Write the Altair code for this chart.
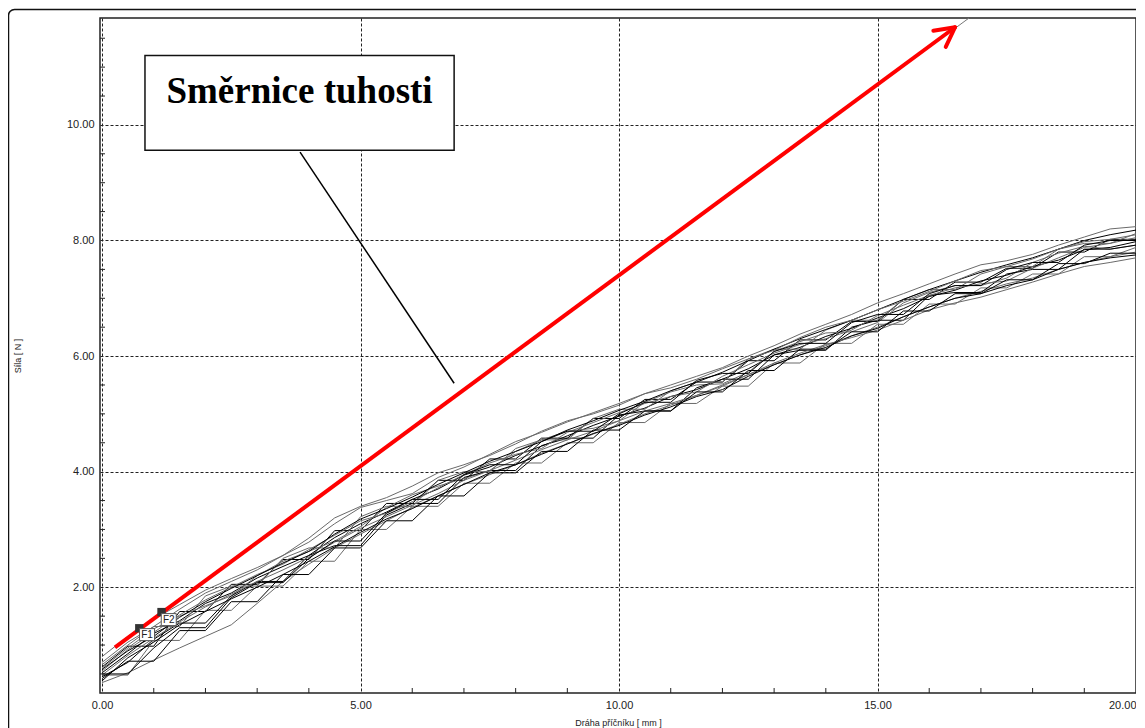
import altair as alt
import pandas as pd

# ---------------- data ----------------
x_mm = [0.0, 0.5, 1.0, 1.5, 2.0, 2.5, 3.0, 3.5, 4.0, 4.5, 5.0, 5.5, 6.0, 6.5, 7.0,
        7.5, 8.0, 8.5, 9.0, 9.5, 10.0, 10.5, 11.0, 11.5, 12.0, 12.5, 13.0, 13.5,
        14.0, 14.5, 15.0, 15.5, 16.0, 16.5, 17.0, 17.5, 18.0, 18.5, 19.0, 19.5, 20.0]

curve_01 = [0.62,0.98,0.98,1.58,1.58,2.05,2.05,2.48,2.48,2.98,2.98,3.45,3.45,3.85,3.85,4.22,4.22,4.58,4.58,4.92,4.92,5.25,5.25,5.55,5.55,5.92,5.92,6.28,6.28,6.60,6.60,6.98,6.98,7.28,7.28,7.52,7.52,7.80,7.80,8.02,8.02]
curve_02 = [0.48,0.48,1.08,1.08,1.60,1.60,2.02,2.02,2.45,2.45,3.00,3.00,3.40,3.40,3.80,3.80,4.15,4.15,4.50,4.50,4.85,4.85,5.18,5.18,5.48,5.48,5.88,5.88,6.22,6.22,6.55,6.55,6.90,6.90,7.18,7.18,7.42,7.42,7.72,7.72,7.88]
curve_03 = [0.80,1.15,1.45,1.70,1.95,2.15,2.34,2.55,2.78,3.10,3.38,3.50,3.62,3.90,4.08,4.30,4.52,4.68,4.86,5.02,5.18,5.35,5.50,5.65,5.80,6.00,6.18,6.38,6.55,6.72,6.92,7.08,7.25,7.42,7.58,7.65,7.76,7.92,8.06,8.20,8.24]
curve_04 = [0.35,0.52,0.74,0.95,1.15,1.35,1.72,2.10,2.40,2.68,2.92,3.15,3.38,3.58,3.78,3.95,4.12,4.32,4.48,4.65,4.82,5.00,5.15,5.32,5.50,5.68,5.85,6.02,6.18,6.35,6.50,6.68,6.85,7.00,7.12,7.25,7.35,7.50,7.62,7.72,7.80]
curve_05 = [0.52,0.85,1.20,1.42,1.72,1.90,2.16,2.36,2.55,2.86,3.10,3.30,3.52,3.70,3.94,4.08,4.28,4.44,4.62,4.80,4.96,5.10,5.30,5.42,5.60,5.78,6.02,6.15,6.34,6.48,6.66,6.82,7.03,7.14,7.30,7.40,7.55,7.66,7.84,7.88,7.98]
curve_06 = [0.60,0.95,1.28,1.50,1.68,1.85,2.20,2.45,2.62,2.80,3.05,3.38,3.60,3.75,3.88,4.02,4.35,4.55,4.70,4.75,4.88,5.20,5.38,5.50,5.52,5.72,6.08,6.25,6.40,6.42,6.58,6.92,7.10,7.22,7.22,7.35,7.62,7.78,7.90,7.85,7.92]
curve_07 = [0.45,0.70,1.10,1.38,1.38,1.85,2.10,2.10,2.55,2.72,2.72,3.25,3.45,3.45,3.90,4.02,4.02,4.45,4.58,4.58,4.98,5.05,5.05,5.45,5.60,5.60,6.02,6.10,6.10,6.50,6.62,6.62,7.05,7.10,7.10,7.42,7.50,7.50,7.85,7.85,7.92]
curve_08 = [0.70,1.05,1.32,1.32,1.85,2.02,2.02,2.50,2.68,2.68,3.22,3.40,3.40,3.85,4.00,4.00,4.40,4.55,4.55,4.92,5.08,5.08,5.40,5.55,5.55,5.95,6.12,6.12,6.45,6.62,6.62,6.98,7.15,7.15,7.42,7.55,7.55,7.85,7.95,7.95,8.12]
curve_09 = [0.38,0.78,1.05,1.35,1.58,1.80,2.00,2.22,2.45,2.70,2.95,3.18,3.36,3.58,3.78,3.98,4.12,4.30,4.48,4.66,4.80,4.98,5.12,5.30,5.42,5.65,5.85,6.02,6.15,6.35,6.48,6.68,6.85,7.00,7.08,7.22,7.32,7.50,7.62,7.70,7.75]
curve_10 = [0.55,0.92,1.22,1.52,1.78,2.00,2.22,2.40,2.65,2.90,3.15,3.28,3.48,3.72,3.95,4.15,4.30,4.40,4.68,4.85,5.02,5.18,5.30,5.38,5.65,5.85,6.05,6.20,6.30,6.45,6.70,6.88,7.05,7.18,7.25,7.30,7.52,7.70,7.88,7.95,8.05]
curve_11 = [0.58,0.90,1.15,1.48,1.75,1.98,2.20,2.42,2.62,2.92,3.18,3.36,3.56,3.78,3.98,4.18,4.35,4.52,4.72,4.88,5.06,5.22,5.40,5.55,5.72,5.92,6.12,6.30,6.46,6.62,6.80,6.98,7.15,7.30,7.45,7.58,7.70,7.85,8.00,8.10,8.18]
curve_12 = [0.48,0.82,1.12,1.40,1.66,1.88,2.10,2.30,2.52,2.78,3.02,3.22,3.42,3.62,3.85,4.02,4.20,4.38,4.55,4.70,4.88,5.05,5.18,5.32,5.48,5.68,5.88,6.05,6.20,6.32,6.45,6.62,6.80,6.92,7.02,7.15,7.28,7.42,7.55,7.62,7.70]
curve_13 = [0.50,0.50,0.95,1.30,1.30,1.82,2.08,2.08,2.50,2.80,2.80,3.28,3.52,3.52,3.95,4.12,4.12,4.52,4.70,4.70,5.00,5.20,5.20,5.58,5.70,5.70,6.08,6.22,6.22,6.58,6.72,6.72,7.08,7.22,7.22,7.50,7.62,7.62,7.92,8.00,8.00]
curve_14 = [0.42,0.72,0.72,1.25,1.25,1.75,1.75,2.22,2.22,2.68,2.68,3.15,3.15,3.58,3.58,3.98,3.98,4.35,4.35,4.72,4.72,5.05,5.05,5.38,5.38,5.75,5.75,6.12,6.12,6.42,6.42,6.78,6.78,7.08,7.08,7.32,7.32,7.60,7.60,7.78,7.78]
curve_15 = [0.66,1.00,1.32,1.62,1.90,2.10,2.30,2.55,2.85,3.20,3.40,3.55,3.75,3.98,4.12,4.28,4.48,4.70,4.88,5.00,5.15,5.35,5.45,5.60,5.78,5.95,6.10,6.32,6.50,6.62,6.80,6.95,7.12,7.30,7.48,7.55,7.68,7.85,7.98,8.02,8.10]

curve_names = ["c01", "c02", "c03", "c04", "c05", "c06", "c07", "c08", "c09", "c10",
               "c11", "c12", "c13", "c14", "c15"]
curve_values = [curve_01, curve_02, curve_03, curve_04, curve_05, curve_06,
                curve_07, curve_08, curve_09, curve_10, curve_11, curve_12,
                curve_13, curve_14, curve_15]
curve_colors = ["#000000", "#6a6a6a", "#6a6a6a", "#6a6a6a", "#000000", "#6a6a6a",
                "#000000", "#6a6a6a", "#000000", "#6a6a6a", "#000000", "#6a6a6a",
                "#000000", "#000000", "#6a6a6a"]

x_major = [0, 5, 10, 15, 20]
y_major = [2, 4, 6, 8, 10]
x_minor = [1, 2, 3, 4, 6, 7, 8, 9, 11, 12, 13, 14, 16, 17, 18, 19]
y_minor = [0.5, 1.0, 1.5, 2.5, 3.0, 3.5, 4.5, 5.0, 5.5, 6.5, 7.0, 7.5, 8.5, 9.0, 9.5,
           10.5, 11.0, 11.5]

# slope arrow (red) and its thin guide line
arrow_x = [0.25, 16.50]
arrow_y = [0.96, 11.69]
guide_x = [0.25, 16.77]
guide_y = [0.96, 11.85]
wing_x = [16.08, 16.32]
wing_y = [11.63, 11.35]

# callout
callout_label = "Směrnice tuhosti"
callout_box_x = [0.83, 6.81]
callout_box_y = [9.56, 11.20]
callout_text_xy = [3.82, 10.38]
leader_x = [3.83, 6.81]
leader_y = [9.53, 5.53]

# F1 / F2 markers
f_names = ["F1", "F2"]
f_marker_x = [0.72, 1.15]
f_marker_y = [1.29, 1.57]
f_label_x = [0.87, 1.29]
f_label_y = [1.18, 1.44]

# ---------------- tables ----------------
rows = []
for name, vals, col in zip(curve_names, curve_values, curve_colors):
    for xv, yv in zip(x_mm, vals):
        rows.append({"curve": name, "x": xv, "y": yv, "col": col})
df_curves = pd.DataFrame(rows)

df_arrow = pd.DataFrame({"x": [arrow_x[0]], "y": [arrow_y[0]], "x2": [arrow_x[1]], "y2": [arrow_y[1]]})
df_guide = pd.DataFrame({"x": [guide_x[0]], "y": [guide_y[0]], "x2": [guide_x[1]], "y2": [guide_y[1]]})
df_wings = pd.DataFrame({"x": [arrow_x[1], arrow_x[1]], "y": [arrow_y[1], arrow_y[1]],
                         "x2": wing_x, "y2": wing_y})
df_leader = pd.DataFrame({"x": [leader_x[0]], "y": [leader_y[0]], "x2": [leader_x[1]], "y2": [leader_y[1]]})
df_box = pd.DataFrame({"x": [callout_box_x[0]], "x2": [callout_box_x[1]],
                       "y": [callout_box_y[0]], "y2": [callout_box_y[1]]})
df_text = pd.DataFrame({"x": [callout_text_xy[0]], "y": [callout_text_xy[1]], "t": [callout_label]})
df_fm = pd.DataFrame({"x": f_marker_x, "y": f_marker_y, "n": f_names})
df_fl = pd.DataFrame({"x": f_label_x, "y": f_label_y, "n": f_names})
df_xt = pd.DataFrame({"v": x_minor})
df_yt = pd.DataFrame({"v": y_minor})

# ---------------- scales & axes ----------------
PW, PH = 1036, 675
xscale = alt.Scale(domain=[-0.04, 20.0], nice=False, zero=False)
yscale = alt.Scale(domain=[0.17, 11.85], nice=False, zero=False)

common_axis = dict(grid=True, gridColor="#222222", gridDash=[3, 2], gridWidth=1,
                   ticks=False, tickSize=0, domain=False, format=".2f",
                   labelFont="Liberation Sans", labelFontSize=11, labelColor="#222222",
                   titleFont="Liberation Sans", titleFontSize=9, titleFontWeight="normal",
                   titleColor="#222222")
x_axis = alt.Axis(values=x_major, title="Dráha příčníku [ mm ]", labelFlush=True,
                  labelPadding=6, titleX=518, titleY=29, titleAlign="center",
                  titleBaseline="middle", **common_axis)
y_axis = alt.Axis(values=y_major, title="Síla [ N ]", labelPadding=6,
                  titleX=-83, titleY=PH / 2, titleAngle=270, titleAlign="center",
                  titleBaseline="middle", **common_axis)


def X(f):
    return alt.X(f, type="quantitative", scale=xscale, axis=x_axis)


def Y(f):
    return alt.Y(f, type="quantitative", scale=yscale, axis=y_axis)


# ---------------- layers ----------------
frame = alt.Chart(pd.DataFrame({"k": [0]})).mark_rect(
    filled=False, stroke="#111111", strokeWidth=1.5, cornerRadius=6
).encode(x=alt.value(-91.5), x2=alt.value(1080), y=alt.value(-8.5), y2=alt.value(760))

xticks = alt.Chart(df_xt).mark_rule(color="#222222", strokeWidth=1).encode(
    x=X("v"), y=alt.value(PH), y2=alt.value(PH - 5))
yticks = alt.Chart(df_yt).mark_rule(color="#222222", strokeWidth=1).encode(
    y=Y("v"), x=alt.value(0), x2=alt.value(5))

curves = alt.Chart(df_curves).mark_line(strokeWidth=1).encode(
    x=X("x"), y=Y("y"), detail="curve:N", color=alt.Color("col:N", scale=None))

guide = alt.Chart(df_guide).mark_rule(color="#777777", strokeWidth=1).encode(
    x=X("x"), y=Y("y"), x2="x2", y2="y2")
arrow = alt.Chart(df_arrow).mark_rule(color="#ff0000", strokeWidth=4).encode(
    x=X("x"), y=Y("y"), x2="x2", y2="y2")
wings = alt.Chart(df_wings).mark_rule(color="#ff0000", strokeWidth=4, strokeCap="round").encode(
    x=X("x"), y=Y("y"), x2="x2", y2="y2")

leader = alt.Chart(df_leader).mark_rule(color="#000000", strokeWidth=1.5).encode(
    x=X("x"), y=Y("y"), x2="x2", y2="y2")
box = alt.Chart(df_box).mark_rect(fill="white", stroke="#111111", strokeWidth=1.5).encode(
    x=X("x"), x2="x2", y=Y("y"), y2="y2")
text = alt.Chart(df_text).mark_text(font="Liberation Serif", fontWeight="bold", fontSize=37,
                                    align="center", baseline="alphabetic", color="#000000").encode(
    x=X("x"), y=Y("y"), text="t:N")

fmark = alt.Chart(df_fm).mark_square(size=70, color="#333333", opacity=1).encode(x=X("x"), y=Y("y"))
fbox = alt.Chart(df_fl).mark_rect(width=15, height=12, fill="white", stroke="#555555",
                                  strokeWidth=1).encode(x=X("x"), y=Y("y"))
ftext = alt.Chart(df_fl).mark_text(font="Liberation Sans", fontSize=10, color="#222222",
                                   align="center", baseline="middle").encode(
    x=X("x"), y=Y("y"), text="n:N")

chart = alt.layer(frame, xticks, yticks, curves, guide, arrow, wings, leader, box, text,
                  fmark, fbox, ftext).properties(
    width=PW, height=PH,
    autosize=alt.AutoSizeParams(type="none"),
    padding={"left": 92, "top": 10, "right": 0, "bottom": 35},
    background="white",
).configure_view(stroke="#222222", strokeWidth=1.5)

chart.save("out.html", embed_options={"renderer": "svg", "actions": False})
